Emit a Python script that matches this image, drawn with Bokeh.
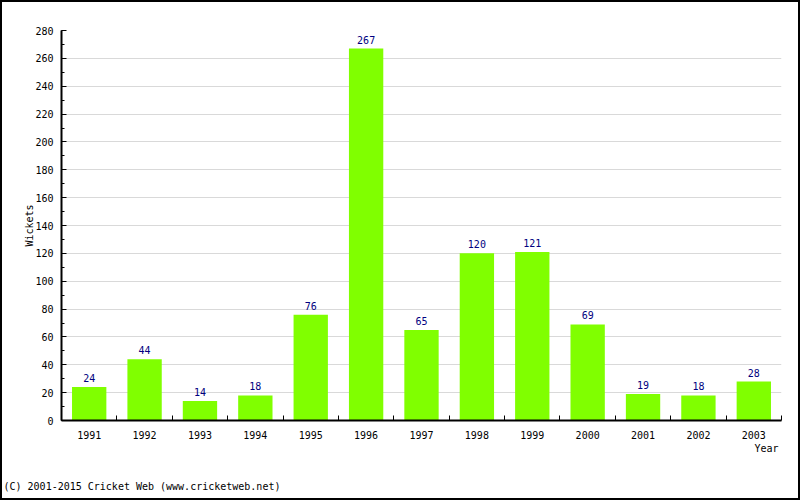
from bokeh.plotting import figure
from bokeh.models import ColumnDataSource, FixedTicker, Range1d, Title
from bokeh.embed import file_html
from bokeh.resources import INLINE
from bokeh.core.properties import value

years = ["1991", "1992", "1993", "1994", "1995", "1996", "1997",
         "1998", "1999", "2000", "2001", "2002", "2003"]
wickets = [24, 44, 14, 18, 76, 267, 65, 120, 121, 69, 19, 18, 28]
y_ticks = list(range(0, 281, 20))

FONT = "DejaVu Sans Mono"
n = len(years)
xs = list(range(1, n + 1))
src = ColumnDataSource(dict(x=xs, top=wickets, label=[str(v) for v in wickets]))

p = figure(width=800, height=500, output_backend="svg", toolbar_location=None,
           x_range=Range1d(0.5, n + 0.5), y_range=Range1d(0, 280),
           min_border_left=59, min_border_right=21, min_border_top=28,
           min_border_bottom=82)
p.styles = {"border": "2px solid black", "box-sizing": "border-box"}
p.outline_line_color = None
p.background_fill_color = "white"
p.border_fill_color = "white"

p.vbar(x="x", top="top", width=0.62, bottom=0, source=src,
       fill_color="#80FF00", line_color=None)
p.text(x="x", y="top", text="label", source=src, text_align="center",
       text_baseline="bottom", y_offset=-5, text_color="#000080",
       text_font=value(FONT), text_font_size="10px")

# X axis
xa = p.xaxis[0]
xa.ticker = FixedTicker(ticks=xs, minor_ticks=[i + 0.5 for i in range(0, n + 1)])
xa.major_label_overrides = {i + 1: y for i, y in enumerate(years)}
xa.major_tick_line_color = None
xa.minor_tick_in = 5
xa.minor_tick_out = 0
xa.minor_tick_line_color = "black"
xa.axis_line_width = 2
xa.major_label_standoff = 4
xa.major_label_text_font = FONT
xa.major_label_text_font_size = "10px"
xa.major_label_text_color = "black"

# Y axis
ya = p.yaxis[0]
ya.ticker = FixedTicker(ticks=y_ticks, minor_ticks=list(range(0, 281, 10)))
ya.major_tick_in = 5
ya.major_tick_out = 0
ya.minor_tick_in = 3
ya.minor_tick_out = 0
ya.axis_line_width = 2
ya.major_label_standoff = 8
ya.major_label_text_font = FONT
ya.major_label_text_font_size = "10px"
ya.major_label_text_color = "black"
ya.axis_label = "Wickets"
ya.axis_label_text_font = FONT
ya.axis_label_text_font_size = "10px"
ya.axis_label_text_font_style = "normal"
ya.axis_label_text_color = "black"
ya.axis_label_standoff = -3

p.xgrid.grid_line_color = None
p.ygrid.grid_line_color = "#d9d9d9"
p.ygrid.ticker = FixedTicker(ticks=y_ticks)

p.add_layout(Title(text="Year", align="right", offset=3, standoff=-2,
                   text_font=FONT, text_font_size="10px",
                   text_font_style="normal", text_color="black"), "below")
p.add_layout(Title(text="\n\n(C) 2001-2015 Cricket Web (www.cricketweb.net)",
                   align="left", offset=-58, standoff=8,
                   text_font=FONT, text_font_size="10px",
                   text_font_style="normal", text_color="black"), "below")

open("out.html", "w").write(file_html(p, INLINE))
